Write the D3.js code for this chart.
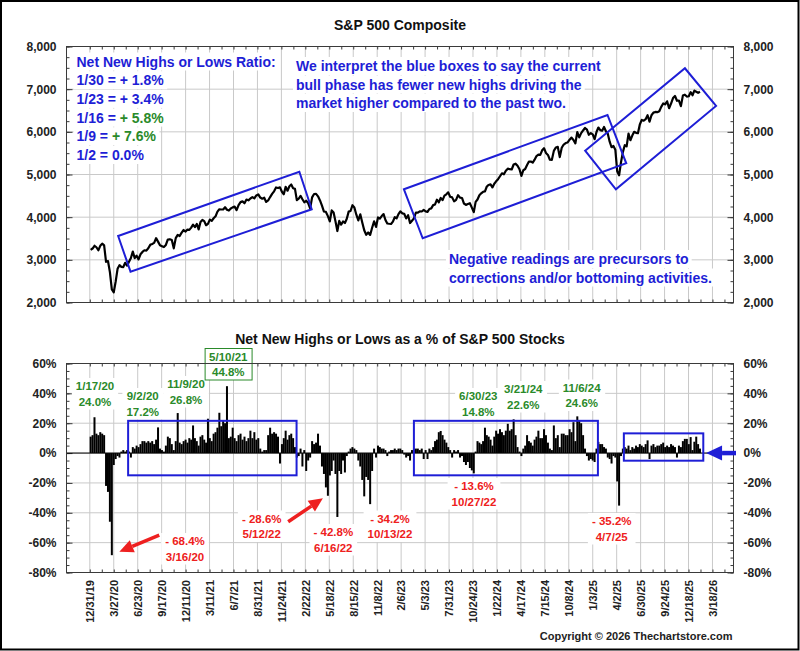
<!DOCTYPE html>
<html>
<head>
<meta charset="utf-8">
<script src="https://cdn.jsdelivr.net/npm/d3@7"></script>
<style>
body { margin: 0; background: #fff; }
svg { display: block; font-family: "Liberation Sans", Arial, sans-serif; font-weight: bold; }
</style>
</head>
<body>
<svg id="chart" width="800" height="651"></svg>
<script>
// x axis labels, one every 60 trading days
const tickLabels = ["12/31/19", "3/27/20", "6/23/20", "9/17/20", "12/11/20", "3/11/21", "6/7/21", "8/31/21",
    "11/24/21", "2/22/22", "5/18/22", "8/15/22", "11/8/22", "2/6/23", "5/3/23", "7/31/23", "10/24/23",
    "1/22/24", "4/17/24", "7/15/24", "10/8/24", "1/3/25", "4/2/25", "6/30/25", "9/24/25", "12/18/25", "3/18/26"];

// S&P 500 weekly closes (Fridays)
const spx2020 = [3235, 3265, 3330, 3295, 3225, 3328, 3380, 3338, 2954, 2972, 2711, 2305, 2240,
    2489, 2790, 2875, 2837, 2831, 2930, 2864, 2955, 3044, 3194, 3041, 3098, 3009,
    3130, 3185, 3225, 3216, 3271, 3351, 3373, 3397, 3508, 3427, 3341, 3319, 3298,
    3348, 3477, 3483, 3465, 3270, 3509, 3585, 3558, 3638, 3699, 3663, 3709, 3703];
const spx2021 = [3756, 3825, 3768, 3841, 3714, 3887, 3934, 3907, 3811, 3842, 3943, 3913, 3975,
    4020, 4129, 4185, 4180, 4181, 4233, 4174, 4156, 4204, 4230, 4247, 4166, 4281,
    4352, 4370, 4327, 4412, 4395, 4437, 4468, 4442, 4509, 4535, 4459, 4433, 4455,
    4357, 4391, 4471, 4545, 4605, 4697, 4683, 4698, 4595, 4538, 4712, 4620, 4725, 4766];
const spx2022 = [4677, 4663, 4398, 4432, 4500, 4419, 4349, 4385, 4329, 4204, 4463, 4543,
    4546, 4488, 4393, 4272, 4132, 4123, 4024, 3901, 4158, 4109, 3901, 3675, 3912,
    3825, 3899, 3863, 3962, 4130, 4145, 4280, 4228, 4058, 3924, 4067, 3873, 3693, 3586,
    3640, 3583, 3753, 3901, 3771, 3993, 3965, 4026, 4072, 3934, 3852, 3845, 3840];
const spx2023 = [3895, 3999, 3973, 4071, 4136, 4090, 4079, 3970, 4046, 3862, 3917, 3971, 4109,
    4105, 4138, 4133, 4169, 4136, 4124, 4192, 4205, 4282, 4299, 4410, 4348, 4450,
    4399, 4505, 4536, 4582, 4478, 4464, 4370, 4406, 4516, 4457, 4450, 4320, 4288,
    4308, 4327, 4224, 4117, 4358, 4415, 4514, 4559, 4595, 4604, 4719, 4755, 4770];
const spx2024 = [4697, 4784, 4840, 4891, 4959, 5027, 5006, 5089, 5137, 5124, 5117, 5234, 5254,
    5204, 5123, 4967, 5100, 5128, 5223, 5303, 5305, 5278, 5347, 5432, 5465, 5460,
    5567, 5615, 5505, 5459, 5346, 5344, 5554, 5634, 5648, 5408, 5626, 5703, 5738,
    5751, 5815, 5865, 5808, 5729, 5995, 5870, 5969, 6032, 6090, 6051, 5931, 5971];
const spx2025 = [5942, 5827, 5997, 6101, 6041, 6026, 6115, 6013, 5955, 5770, 5639, 5668, 5581,
    5074, 4982, 5283, 5525, 5687, 5660, 5958, 5803, 5912, 6000, 5977, 5968, 6173,
    6280, 6260, 6297, 6389, 6238, 6389, 6450, 6467, 6460, 6482, 6584, 6664, 6644,
    6716, 6553, 6664, 6791, 6840, 6728, 6734, 6603, 6849, 6870, 6827, 6834, 6930];
const spx2026 = [6858, 6966, 6940, 6915, 6939];

// net new highs or lows, % of S&P 500 stocks (weekly extreme)
const nh2020 = [11, 12, 24, 13, 12, 14, 13, 12, -22, -26, -46, -68.4, -8, -4, -2, -3, 1,
    2, 1, 2, 1, -3, 4, 3, 5, 4, 6, 8, 8, 7, 8, 7, 8, 6, 9, 17.2, 3, 2, 1,
    5, 11, 10, 6, 2, 8, 26.8, 7, 6, 8, 9, 7, 10];
const nh2021 = [9, 18.5, 10, 8, 5, 11, 12, 9, 7, 23, 10, 8, 13, 14, 17, 27, 18, 22,
    20, 44.8, 10, 11, 17, 10, 8, 12, 13, 9, 11, 8, 10, 15, 10, 14, 9, 10, 3, 1, 2,
    2, 12, 17, 13, 14, 13, 11, -7, 6, 10, 15, 9, 12, 13];
const nh2022 = [10, 4, -3, -2, 3, -9, 2, -12, -5, -3, 8, 6, 7, 13, 5, -9, -14,
    -23, -28.6, -15, -12, -5, -14, -42.8, -12, -14, -5, -13, -2, 1, 3, 4, 3, 2,
    -5, -9, -18, -29, -16, -18, -34.2, -12, 3, -3, 5, 4, 3, 3, 2, -2, 1, 2];
const nh2023 = [2, 3, 2, 3, 3, 2, -1, -3, -2, -5, 2, 3, 3, 3, 2, 3, -4, 2, -4, 3, 2,
    4, 8, 9, 14, 14.8, 12, 9, 7, 4, 2, -3, 2, 1, 2, -3, -2, -6, -8,
    -6, -10, -11.6, -13.6, 1, 8, 7, 6, 8, 17, 12, 11, 9];
const nh2024 = [5, 11, 15, 13, 16, 14, 12, 15, 19.6, 15, 16, 22.6, 12, 4, 1, -2, 3,
    5, 12, 8, 7, 5, 9, 11, 15, 10, 10, 16, 12, 7, 3, 2, 18.5, 10, 12, 4, 13, 13, 12,
    12, 16, 14, 20.7, 8, 24.6, 22, 20, 12, 3, -2, -5, -4];
const nh2025 = [-5, -6, 3, 7.5, 6, 6, 4, 3, -3, -4, -7, -2, -3, -19, -35.2, -2, 3,
    4, 3, 5, 2, 4, 3, 5, 4, 6, 5, 4, 6, 8.5, -4, 5, 6, 4, 5, 5, 6, 7, 4,
    5, 4, 6, 5, 4, -3, 5, 4, 8, 9.5, 9.5, 6, 10.7];
const nh2026 = [2, 7.6, 11, 6, 3];

// annotation shapes in data units: [trading-day index, value]
const priceBoxes = [
    [[71, 3559], [525, 5066], [556, 4185], [102, 2722]],
    [[787, 4653], [1297, 6395], [1344, 5263], [834, 3505]],
    [[1241, 5558], [1491, 7490], [1569, 6606], [1318, 4653]]
];
const pctBoxes = [[96, 518, 21.6, -14.9], [812, 1273, 21.6, -14.9], [1338, 1537, 13.2, -5.1]];
const redArrows = [[[174, -54.9], [74, -66.1]], [[497, -46.0], [584, -30.3]]];
const blueArrow = [[1619, 0], [1544, 0]];

const ratioLines = [
    [["Net New Highs or Lows Ratio:", "b"]],
    [["1/30 = + 1.8%", "b"]],
    [["1/23 = + 3.4%", "b"]],
    [["1/16 = ", "b"], ["+ 5.8%", "g"]],
    [["1/9 = ", "b"], ["+ 7.6%", "g"]],
    [["1/2 = 0.0%", "b"]]
];
const noteTop = ["We interpret the blue boxes to say the current", "bull phase has fewer new highs driving the",
    "market higher compared to the past two."];
const noteBottom = ["Negative readings are precursors to", "corrections and/or bottoming activities."];
const highLabels = [["1/17/20", "24.0%"], ["9/2/20", "17.2%"], ["11/9/20", "26.8%"], ["5/10/21", "44.8%"],
    ["6/30/23", "14.8%"], ["3/21/24", "22.6%"], ["11/6/24", "24.6%"]];
const lowLabels = [["- 68.4%", "3/16/20"], ["- 28.6%", "5/12/22"], ["- 42.8%", "6/16/22"], ["- 34.2%", "10/13/22"],
    ["- 13.6%", "10/27/22"], ["- 35.2%", "4/7/25"]];

// ---- layout ----
const svg = d3.select("#chart");
const L = 66.5, R = 733.5;
const top1 = 46.5, bot1 = 302.5, top2 = 363.5, bot2 = 572.5;
const blue = "#1e1ed6", green = "#2a8a2a", red = "#ee2020", gridC = "#c9c9c9", axisC = "#3a3a3a";

const parse = d3.timeParse("%m/%d/%y");
const tickDates = tickLabels.map(parse);
const tIdx = d3.scaleTime().domain(tickDates).range(tickDates.map((d, i) => i * 60));
const x = d3.scaleLinear().domain([-58.4, 1612.7]).range([L, R]);
const yT = d3.scaleLinear().domain([2000, 8000]).range([bot1, top1]);
const yB = d3.scaleLinear().domain([-80, 60]).range([bot2, top2]);

const weeks = d3.timeFriday.range(new Date(2020, 0, 3), new Date(2026, 0, 31));
const spx = [].concat(spx2020, spx2021, spx2022, spx2023, spx2024, spx2025, spx2026);
const nh = [].concat(nh2020, nh2021, nh2022, nh2023, nh2024, nh2025, nh2026);
const wx = weeks.map(d => x(tIdx(d)));

svg.append("rect").attr("x", 1).attr("y", 1).attr("width", 797.5).attr("height", 648.5)
    .attr("fill", "#fff").attr("stroke", "#000").attr("stroke-width", 2);

const gridIdx = d3.range(0, 27).map(i => i * 60);

function panel(y, top, bot, major, minorStep, fmt) {
    const g = svg.append("g");
    g.selectAll(".v").data(gridIdx).join("line")
        .attr("x1", d => x(d)).attr("x2", d => x(d)).attr("y1", top).attr("y2", bot)
        .attr("stroke", gridC);
    g.selectAll(".h").data(major.slice(1, -1)).join("line")
        .attr("x1", L).attr("x2", R).attr("y1", d => y(d)).attr("y2", d => y(d))
        .attr("stroke", gridC);

    const minor = d3.range(y.domain()[0], y.domain()[1] + 0.001, minorStep);
    const strip = s => s.call(a => a.select(".domain").remove()).call(a => a.selectAll("line").attr("stroke", axisC));
    g.append("g").attr("transform", `translate(${L},0)`)
        .call(d3.axisLeft(y).tickValues(minor).tickSize(-3).tickFormat("")).call(strip);
    g.append("g").attr("transform", `translate(${R},0)`)
        .call(d3.axisRight(y).tickValues(minor).tickSize(-3).tickFormat("")).call(strip);
    g.append("g").attr("transform", `translate(${L},0)`)
        .call(d3.axisLeft(y).tickValues(major).tickSize(-6).tickPadding(10).tickFormat(fmt)).call(strip);
    g.append("g").attr("transform", `translate(${R},0)`)
        .call(d3.axisRight(y).tickValues(major).tickSize(-6).tickPadding(10).tickFormat(fmt)).call(strip);
    const xt = d3.range(0, 1600, 30);
    g.append("g").attr("transform", `translate(0,${top})`)
        .call(d3.axisTop(x).tickValues(xt).tickSize(-3).tickFormat("")).call(strip);
    g.append("g").attr("transform", `translate(0,${bot})`)
        .call(d3.axisBottom(x).tickValues(xt).tickSize(-3).tickFormat("")).call(strip);
    g.selectAll(".tick text").attr("fill", "#222").style("font-size", "12px").style("font-family", "inherit");
    return g;
}

// ---- top panel: S&P 500 ----
const gTop = panel(yT, top1, bot1, d3.range(2000, 8001, 1000), 250, d3.format(","));

// text first (white boxes hide the grid), then line and boxes
const txt = svg.append("g").style("font-size", "14px");
function whiteBack(sel, padX) {
    sel.each(function () {
        const b = this.getBBox();
        d3.select(this.parentNode).insert("rect", () => this)
            .attr("x", b.x - padX).attr("y", b.y - 1).attr("width", b.width + 2 * padX).attr("height", b.height + 2)
            .attr("fill", "#fff");
    });
}
const ratio = txt.selectAll(".ratio").data(ratioLines).join("text")
    .attr("x", 76.5).attr("y", (d, i) => 66.5 + i * 18.7);
ratio.selectAll("tspan").data(d => d).join("tspan")
    .attr("fill", d => d[1] === "g" ? green : blue)
    .style("white-space", "pre")
    .text(d => d[0]);
whiteBack(ratio, 3);

const nt = txt.selectAll(".nt").data(noteTop).join("text")
    .attr("x", 296).attr("y", (d, i) => 71 + i * 18.5).attr("fill", blue).text(d => d);
whiteBack(nt, 3);
const nb = txt.selectAll(".nb").data(noteBottom).join("text")
    .attr("x", 449).attr("y", (d, i) => 264 + i * 18.5).attr("fill", blue).text(d => d);
whiteBack(nb, 3);

svg.append("path").datum(spx)
    .attr("fill", "none").attr("stroke", "#000").attr("stroke-width", 2.2).attr("stroke-linejoin", "round")
    .attr("d", d3.line().x((d, i) => wx[i]).y(d => yT(d)));

svg.append("g").selectAll("polygon").data(priceBoxes).join("polygon")
    .attr("points", d => d.map(p => [x(p[0]), yT(p[1])].join(",")).join(" "))
    .attr("fill", "none").attr("stroke", blue).attr("stroke-width", 2);

svg.append("rect").attr("x", L).attr("y", top1).attr("width", R - L).attr("height", bot1 - top1)
    .attr("fill", "none").attr("stroke", axisC);

svg.append("text").attr("x", 400).attr("y", 29.5).attr("text-anchor", "middle")
    .style("font-size", "14px").attr("fill", "#111").text("S&P 500 Composite");

// ---- bottom panel: net new highs / lows ----
const gBot = panel(yB, top2, bot2, d3.range(-80, 61, 20), 5, d => d + "%");

// text labels with white backs
const lab = svg.append("g").style("font-size", "11.5px").attr("text-anchor", "middle");
const highPos = [[95, 390], [142.7, 400], [186, 388], [228.3, 360.5], [478.3, 400], [523.3, 393], [581.7, 391.5]];
const lowPos = [[185, 545], [261.7, 522.5], [333.3, 536], [390, 522.5], [474, 490], [611.7, 525]];
function labelBlock(lines, pos, color, framed) {
    const g = lab.append("g");
    g.selectAll("text").data(lines).join("text")
        .attr("x", pos[0]).attr("y", (d, i) => pos[1] + i * 15.5).attr("fill", color).text(d => d);
    const b = g.node().getBBox();
    g.insert("rect", "text").attr("x", b.x - 4).attr("y", b.y - 2).attr("width", b.width + 8).attr("height", b.height + 4)
        .attr("fill", "#fff").attr("stroke", framed ? color : "none");
}
highLabels.forEach((d, i) => labelBlock(d, highPos[i], green, d[0] === "5/10/21"));
lowLabels.forEach((d, i) => labelBlock(d, lowPos[i], red, false));

svg.append("line").attr("x1", L).attr("x2", R).attr("y1", yB(0)).attr("y2", yB(0)).attr("stroke", "#000");

svg.append("g").selectAll("rect").data(nh).join("rect")
    .attr("x", (d, i) => wx[i] - 1).attr("width", 2)
    .attr("y", d => yB(Math.max(0, d))).attr("height", d => Math.abs(yB(d) - yB(0)))
    .attr("fill", "#000");

svg.append("g").selectAll("rect").data(pctBoxes).join("rect")
    .attr("x", d => x(d[0])).attr("width", d => x(d[1]) - x(d[0]))
    .attr("y", d => yB(d[2])).attr("height", d => yB(d[3]) - yB(d[2]))
    .attr("fill", "none").attr("stroke", blue).attr("stroke-width", 2);

svg.append("rect").attr("x", L).attr("y", top2).attr("width", R - L).attr("height", bot2 - top2)
    .attr("fill", "none").attr("stroke", axisC);

function arrow(a, color, sw, hl, hw) {
    const x1 = x(a[0][0]), y1 = yB(a[0][1]), x2 = x(a[1][0]), y2 = yB(a[1][1]);
    const len = Math.hypot(x2 - x1, y2 - y1), ux = (x2 - x1) / len, uy = (y2 - y1) / len;
    const bx = x2 - ux * hl, by = y2 - uy * hl;
    svg.append("line").attr("x1", x1).attr("y1", y1).attr("x2", bx).attr("y2", by)
        .attr("stroke", color).attr("stroke-width", sw);
    svg.append("polygon")
        .attr("points", [[x2, y2], [bx - uy * hw, by + ux * hw], [bx + uy * hw, by - ux * hw]].map(p => p.join(",")).join(" "))
        .attr("fill", color);
}
redArrows.forEach(a => arrow(a, red, 3.5, 14, 6.5));
arrow(blueArrow, blue, 4.5, 16, 7.5);

// x labels
const xl = svg.append("g").attr("transform", `translate(0,${bot2})`)
    .call(d3.axisBottom(x).tickValues(gridIdx).tickSize(0).tickFormat((d, i) => tickLabels[i]));
xl.select(".domain").remove();
xl.selectAll("text").attr("transform", "rotate(-90)").attr("x", -7.5).attr("y", 0).attr("dy", "0.35em")
    .attr("text-anchor", "end").attr("fill", "#222").style("font-size", "11px").style("font-family", "inherit");

svg.append("text").attr("x", 400).attr("y", 344).attr("text-anchor", "middle")
    .style("font-size", "14px").attr("fill", "#111").text("Net New Highs or Lows as a % of S&P 500 Stocks");

svg.append("text").attr("x", 732.5).attr("y", 640).attr("text-anchor", "end")
    .style("font-size", "11px").attr("fill", "#222").text("Copyright © 2026 Thechartstore.com");
</script>
</body>
</html>
